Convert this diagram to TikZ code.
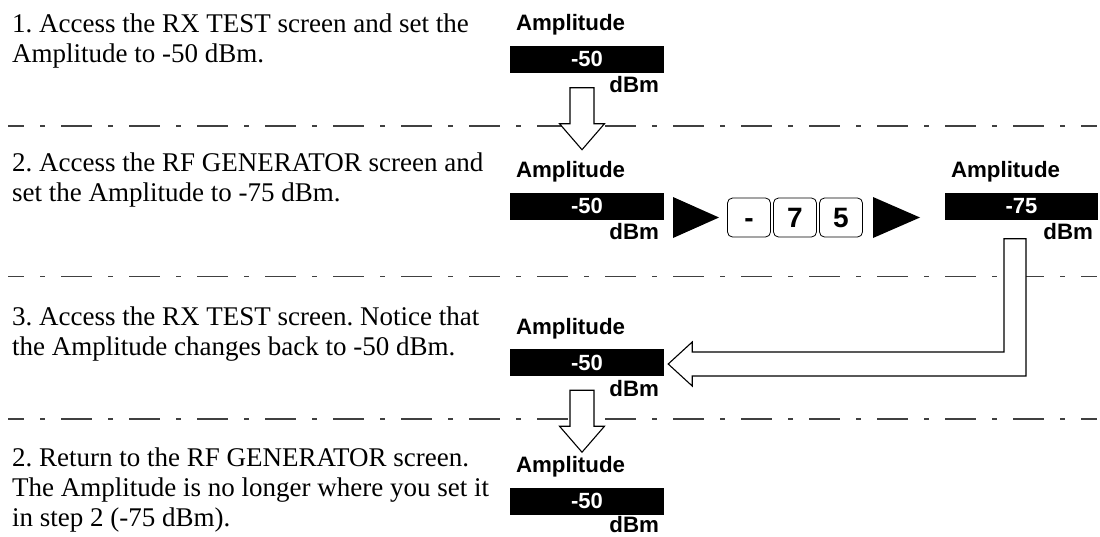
\documentclass[tikz,border=0pt]{standalone}
\usepackage{fontspec}
\setmainfont{Liberation Serif}
\setsansfont{Liberation Sans}
\usetikzlibrary{calc}
\frenchspacing
\begin{document}
\begin{tikzpicture}[x=1pt,y=-1pt,
  body/.style={anchor=base west, inner sep=0pt, font=\frenchspacing\fontsize{27}{30}\selectfont},
  lab/.style={inner sep=0pt, font=\sffamily\bfseries\fontsize{22.3}{24}\selectfont},
  ampbox/.style={fill=black, text=white, minimum width=154pt, minimum height=27pt, inner sep=0pt, text height=15.8pt, text depth=0pt, font=\sffamily\bfseries\fontsize{22}{24}\selectfont},
  keybox/.style={draw, rounded corners=5pt, minimum width=43pt, minimum height=39pt, line width=0.8pt, inner sep=0pt, text height=20pt, text depth=0pt, font=\sffamily\bfseries\fontsize{28}{28}\selectfont},
  sepline/.style={line width=1.3pt, black!75, dash pattern=on 31pt off 16pt on 5pt off 16pt, dash phase=15pt},
  hollow/.style={draw, fill=white, line width=1.1pt, line join=miter},
  downarrow/.pic={\draw[hollow] (-12,0) -- (12,0) -- (12,36) -- (22.5,36) -- (0,62) -- (-22.5,36) -- (-12,36) -- cycle;}
]
\useasboundingbox (0,0) rectangle (1100,536);

% separators
\draw[sepline] (8,126) -- (1097,126);
\draw[sepline] (8,276.5) -- (1097,276.5);
\draw[sepline] (8,419) -- (1097,419);

% left texts
\node[body] (t1a) at (12,32) {1. Access the RX TEST screen and set the};
\node[body] (t1b) at (12,62) {Amplitude to -50 dBm.};
\node[body] (t2a) at (12,171.5) {2. Access the RF GENERATOR screen and};
\node[body] (t2b) at (12,201.5) {set the Amplitude to -75 dBm.};
\node[body] (t3a) at (12,325) {3. Access the RX TEST screen. Notice that};
\node[body] (t3b) at (12,355) {the Amplitude changes back to -50 dBm.};
\node[body] (t4a) at (12,466) {2. Return to the RF GENERATOR screen.};
\node[body] (t4b) at (12,496) {The Amplitude is no longer where you set it};
\node[body] (t4c) at (12,526) {in step 2 (-75 dBm).};

% amplitude boxes
\node[ampbox] (b1) at (587,59) {-50};
\node[ampbox] (b2) at (587,206) {-50};
\node[ampbox, minimum width=153pt] (b2r) at (1021.5,206) {-75};
\node[ampbox] (b3) at (587,362.5) {-50};
\node[ampbox] (b4) at (587,501) {-50};

\foreach \b in {b1,b2,b2r,b3}{
  \node[lab, anchor=base east] (dbm-\b) at ([xshift=-5pt,yshift=-20pt]\b.south east) {dBm};
}
\node[lab, anchor=base east] (dbm-b4) at ([xshift=-5pt,yshift=-18pt]b4.south east) {dBm};
\foreach \b in {b1,b2,b2r,b3,b4}{
  \node[lab, anchor=base west] (amp-\b) at ([xshift=6pt,yshift=14.5pt]\b.north west) {Amplitude};
}

% keys
\node[keybox] (k1) at (749,217.5) {-};
\node[keybox] (k2) at (795,217.5) {7};
\node[keybox] (k3) at (841,217.5) {5};

% black triangles
\fill (673,197) -- (673,238) -- (719,217.5) -- cycle;
\fill (873,197) -- (873,238) -- (920,217.5) -- cycle;

% down arrows
\coordinate (a1) at ([xshift=-5pt,yshift=-15pt]b1.south);
\coordinate (a2) at ([xshift=-5pt,yshift=-14pt]b3.south);
\pic at (a1) {downarrow};
\pic at (a2) {downarrow};

% L-shaped arrow
\coordinate (Ltop) at ([xshift=-6.5pt,yshift=-19pt]b2r.south);
\coordinate (Ltip) at ([xshift=4pt,yshift=-1.5pt]b3.east);
\coordinate (Ll) at ($(Ltop)+(-11,0)$);
\coordinate (Lr) at ($(Ltop)+(11,0)$);
\coordinate (Hb) at ($(Ltip)+(24,12)$);
\coordinate (Ht) at ($(Ltip)+(24,-12)$);
\coordinate (Hbb) at ($(Ltip)+(24,22)$);
\coordinate (Htt) at ($(Ltip)+(24,-22)$);
\draw[hollow] (Ll) -- (Lr) -- (Lr |- Hb) -- (Hb) -- (Hbb) -- (Ltip) -- (Htt) -- (Ht) -- (Ll |- Ht) -- cycle;
\end{tikzpicture}
\end{document}
